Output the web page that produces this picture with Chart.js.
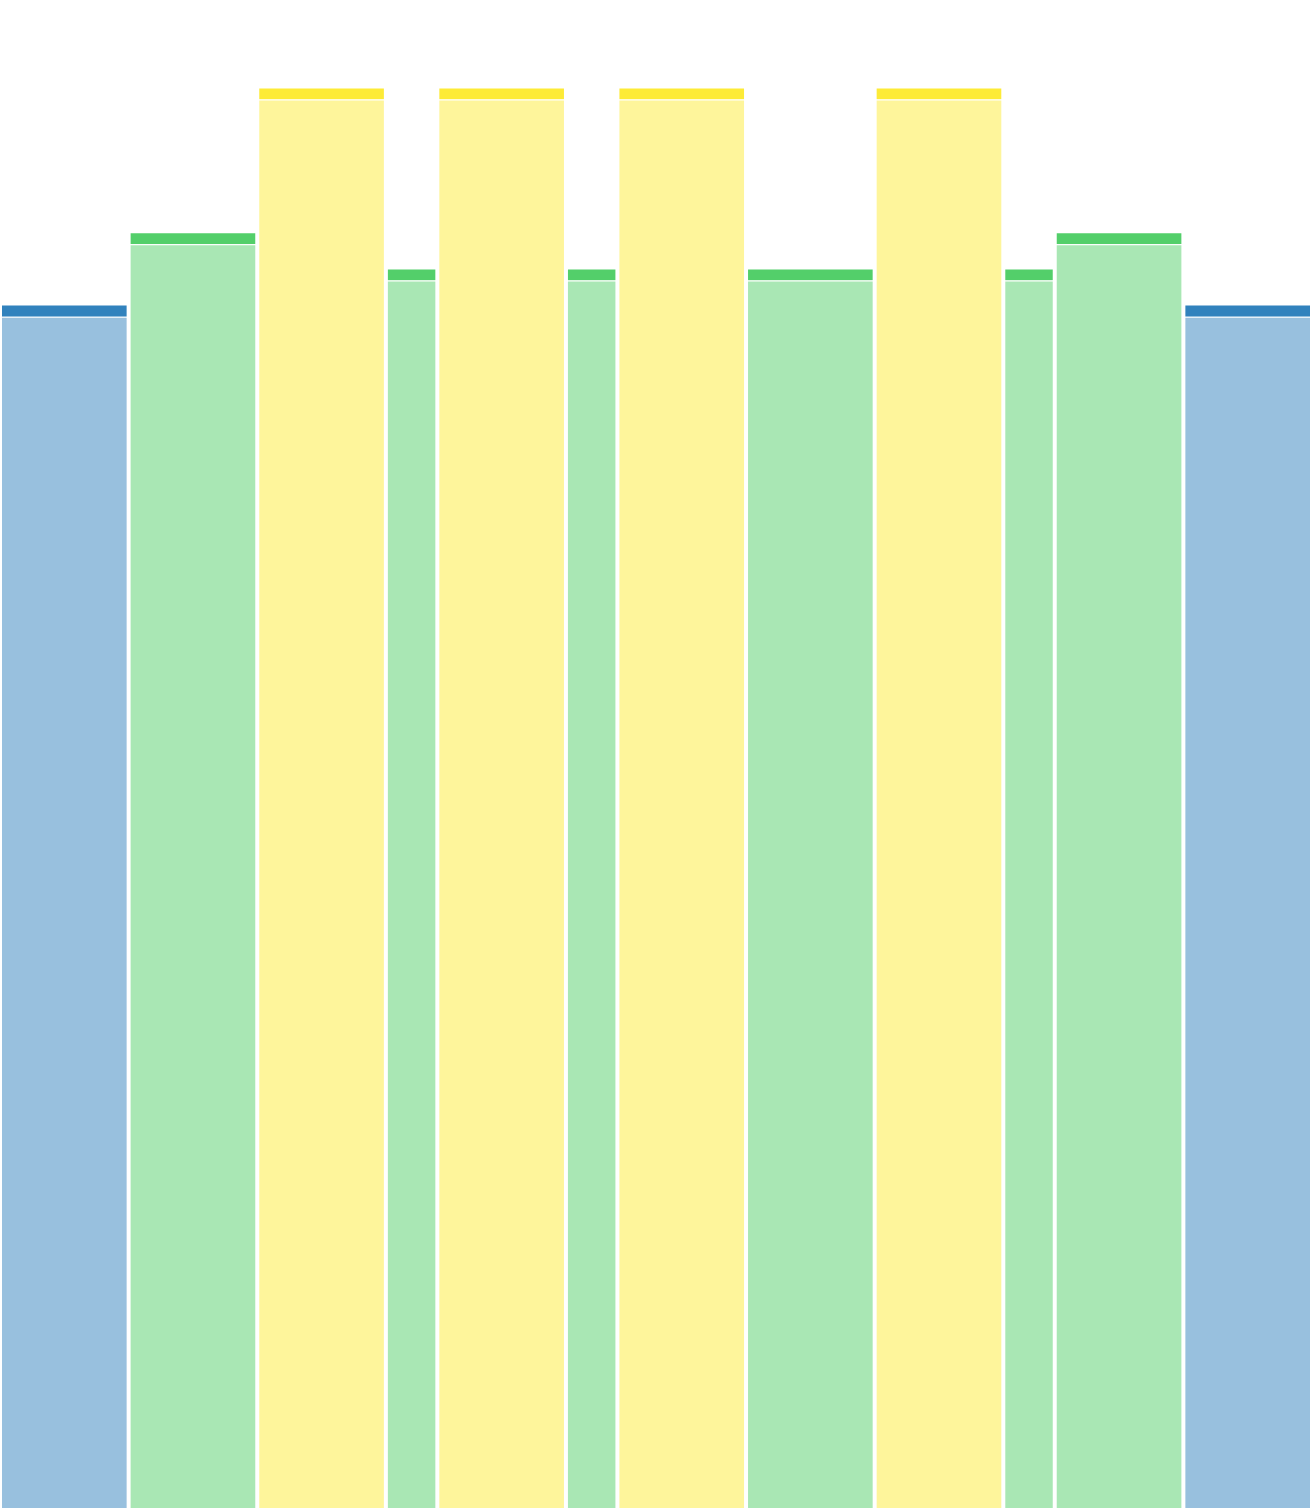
<!DOCTYPE html>
<html>
<head>
<meta charset="utf-8">
<title>Bars</title>
<script src="https://cdn.jsdelivr.net/npm/chart.js@4/dist/chart.umd.min.js"></script>
<style>
  html, body { margin: 0; padding: 0; background: #fff; overflow: hidden; }
  canvas { display: block; }
</style>
</head>
<body>
<canvas id="chart" width="1312" height="1508"></canvas>
<script>
// one entry per bar, left to right (x in width units, y in % of plot height)
const barStarts = [0, 5, 10, 15, 17, 22, 24, 29, 34, 39, 41, 46];
const barWidths = [5, 5, 5, 2, 5, 2, 5, 5, 5, 2, 5, 5];
const barGroups = ['blue', 'green', 'yellow', 'green', 'yellow', 'green', 'yellow', 'green', 'yellow', 'green', 'green', 'blue'];
const bodyValues = [79.0, 83.8, 93.4, 81.4, 93.4, 81.4, 93.4, 81.4, 93.4, 81.4, 83.8, 79.0];
const capValues = [0.8, 0.8, 0.8, 0.8, 0.8, 0.8, 0.8, 0.8, 0.8, 0.8, 0.8, 0.8];

const groupColors = {
  blue: { cap: '#3182bd', body: 'rgba(49, 130, 189, 0.5)' },
  green: { cap: '#53cf6a', body: 'rgba(83, 207, 106, 0.5)' },
  yellow: { cap: '#fdeb37', body: 'rgba(253, 235, 55, 0.5)' },
};

const X_MAX = 51;
const Y_MAX = 100;

// bars of the same width share a dataset so one barThickness fits them all
function buildDatasets() {
  const widths = [...new Set(barWidths)];
  const datasets = [];
  widths.forEach((w) => {
    const idx = barWidths.map((bw, i) => (bw === w ? i : -1)).filter((i) => i >= 0);
    const thickness = (ctx) => {
      const x = ctx.chart.scales.x;
      return x.getPixelForValue(w) - x.getPixelForValue(0);
    };
    const common = {
      type: 'bar',
      grouped: false,
      barThickness: thickness,
      borderColor: '#ffffff',
      borderWidth: { top: 1, left: 2, right: 2, bottom: 0 },
      borderSkipped: 'start',
      inflateAmount: 0,
      stack: 'bars',
    };
    datasets.push({
      ...common,
      label: 'body ' + w,
      data: idx.map((i) => ({ x: barStarts[i] + w / 2, y: bodyValues[i] })),
      backgroundColor: idx.map((i) => groupColors[barGroups[i]].body),
    });
    datasets.push({
      ...common,
      label: 'cap ' + w,
      data: idx.map((i) => ({ x: barStarts[i] + w / 2, y: capValues[i] })),
      backgroundColor: idx.map((i) => groupColors[barGroups[i]].cap),
    });
  });
  return datasets;
}

const ctx = document.getElementById('chart').getContext('2d');
new Chart(ctx, {
  type: 'bar',
  data: { datasets: buildDatasets() },
  options: {
    animation: false,
    responsive: false,
    maintainAspectRatio: false,
    layout: { padding: 0 },
    plugins: {
      legend: { display: false },
      tooltip: { enabled: false },
      title: { display: false },
    },
    scales: {
      x: {
        type: 'linear',
        min: 0,
        max: X_MAX,
        offset: false,
        display: false,
      },
      y: {
        type: 'linear',
        min: 0,
        max: Y_MAX,
        stacked: true,
        display: false,
      },
    },
  },
});
</script>
</body>
</html>
